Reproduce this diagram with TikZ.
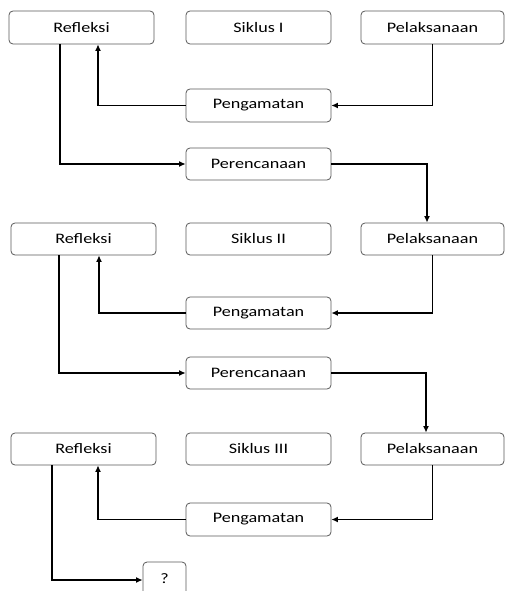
\documentclass[tikz,border=0pt]{standalone}
\usepackage{fontspec}
\setmainfont{Carlito}[FakeStretch=1.25]
\usetikzlibrary{arrows.meta}
\tikzset{
  box/.style={draw=black!65, line width=0.8pt, rounded corners=4pt, fill=white,
    minimum width=145pt, minimum height=33pt, inner sep=0pt,
    font=\fontsize{14.5pt}{16pt}\selectfont, text=black},
  arr/.style={line width=1.5pt, -{Latex[length=6.5pt,width=6pt]}},
  ln/.style={line width=1.5pt}
}
\begin{document}
\begin{tikzpicture}[x=1pt,y=-1pt]
\useasboundingbox (0,0) rectangle (505,591);
\clip (0,0) rectangle (505,591);
% row 1
\node[box] (ref1) at (81.5,27.5) {Refleksi};
\node[box] (sik1) at (258.5,27.5) {Siklus I};
\node[box, minimum width=143pt] (pel1) at (432.5,27.5) {Pelaksanaan};
\node[box] (peng1) at (258.5,105.5) {Pengamatan};
\node[box, minimum height=32pt] (per1) at (258.5,164) {Perencanaan};
% row 2
\node[box, minimum height=32pt] (ref2) at (83.5,239) {Refleksi};
\node[box, minimum height=32pt] (sik2) at (258.5,239) {Siklus II};
\node[box, minimum width=143pt, minimum height=32pt] (pel2) at (432.5,239) {Pelaksanaan};
\node[box, minimum height=32pt] (peng2) at (258.5,313) {Pengamatan};
\node[box, minimum height=32pt] (per2) at (258.5,373) {Perencanaan};
% row 3
\node[box, minimum height=32pt] (ref3) at (83.5,449) {Refleksi};
\node[box, minimum height=32pt] (sik3) at (258.5,449) {Siklus III};
\node[box, minimum width=143pt, minimum height=32pt] (pel3) at (432.5,449) {Pelaksanaan};
\node[box] (peng3) at (258.5,519.5) {Pengamatan};
\node[box, minimum width=43pt, minimum height=33pt] (q) at (164.5,578.5) {?};
% connectors row 1
\draw[arr] (pel1.south) |- (peng1.east);
\draw[arr] (peng1.west) -| ([xshift=16.5pt]ref1.south);
\draw[arr] ([xshift=-21.5pt]ref1.south) |- (per1.west);
\draw[arr] (per1.east) -| ([xshift=-5.5pt]pel2.north);
% connectors row 2
\draw[arr] (pel2.south) |- (peng2.east);
\draw[arr] (peng2.west) -| ([xshift=15.5pt]ref2.south);
\draw[arr] ([xshift=-24.5pt]ref2.south) |- (per2.west);
\draw[arr] (per2.east) -| ([xshift=-6.5pt]pel3.north);
% connectors row 3
\draw[arr] (pel3.south) |- (peng3.east);
\draw[arr] (peng3.west) -| ([xshift=14.5pt]ref3.south);
\draw[arr] ([xshift=-31.5pt]ref3.south) |- ([yshift=-1.5pt]q.west);
\end{tikzpicture}
\end{document}
